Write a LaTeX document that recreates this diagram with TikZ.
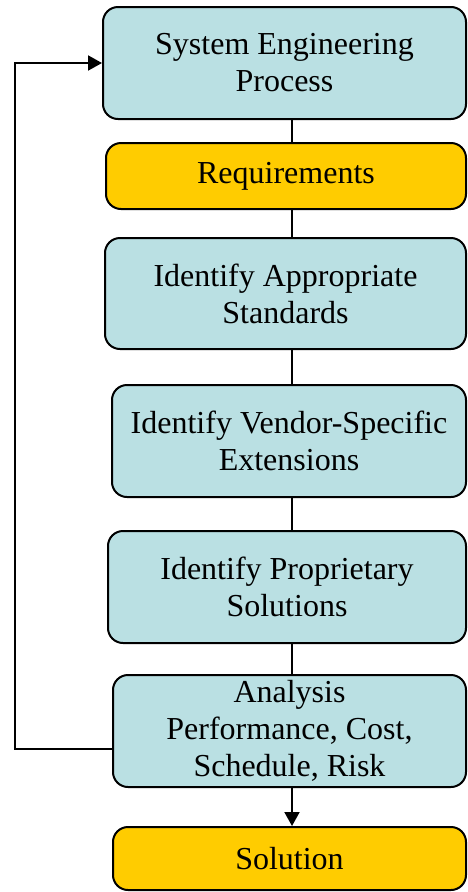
\documentclass[tikz,border=0pt]{standalone}
\usepackage{fontspec}
\setmainfont{Liberation Serif}
\usetikzlibrary{arrows.meta}

\definecolor{stepblue}{HTML}{BAE0E3}
\definecolor{stepgold}{HTML}{FFCC00}

\tikzset{
  stage/.style={draw, line width=2pt, rounded corners=15pt, align=center,
    inner sep=0pt, font=\fontsize{32}{37}\selectfont, fill=stepblue},
  goal/.style={stage, fill=stepgold},
  link/.style={line width=2pt}
}

\begin{document}
\begin{tikzpicture}[x=1pt,y=-1pt]
\useasboundingbox (0,0) rectangle (467,892);
\node[stage, minimum width=363pt, minimum height=112pt] (sep) at (284.5,63) {System Engineering\\Process};
\node[goal, minimum width=360pt, minimum height=66pt] (req) at (286,176) {Requirements};
\node[stage, minimum width=361pt, minimum height=111pt] (std) at (285.5,293.5) {Identify Appropriate\\Standards};
\node[stage, minimum width=354pt, minimum height=112pt] (ven) at (289,441) {Identify Vendor-Specific\\Extensions};
\node[stage, minimum width=358pt, minimum height=112pt] (prop) at (287,587) {Identify Proprietary\\Solutions};
\node[stage, minimum width=353pt, minimum height=112pt] (ana) at (289.5,731) {Analysis\\Performance, Cost,\\Schedule, Risk};
\node[goal, minimum width=353pt, minimum height=63pt] (sol) at (289.5,858.5) {Solution};
\coordinate (spine) at (292,0);
\coordinate (fb) at (15,749);
% chain of stages
\draw[link] (sep.south -| spine) -- (req.north -| spine);
\draw[link] (req.south -| spine) -- (std.north -| spine);
\draw[link] (std.south -| spine) -- (ven.north -| spine);
\draw[link] (ven.south -| spine) -- (prop.north -| spine);
\draw[link] (prop.south -| spine) -- (ana.north -| spine);
\draw[link, -{Triangle[length=14pt,width=15pt]}] (ana.south -| spine) -- (sol.north -| spine);
% feedback loop
\draw[link, -{Triangle[length=14pt,width=15pt]}] (ana.west |- fb) -- (fb) |- (sep.west);
\end{tikzpicture}
\end{document}
